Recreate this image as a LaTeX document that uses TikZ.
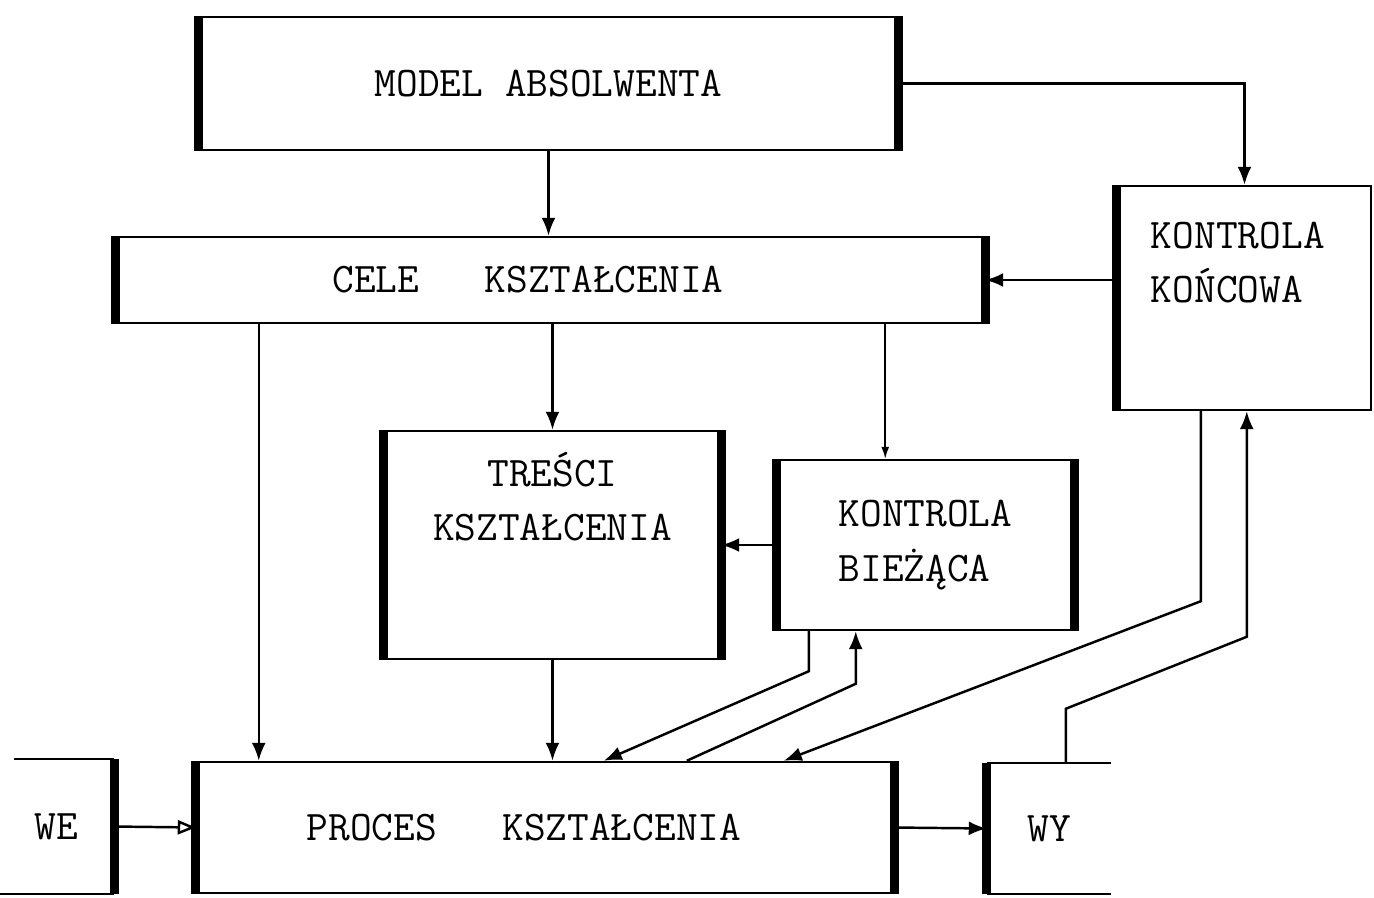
\documentclass[tikz,border=0pt]{standalone}
\usepackage{fontspec}
\usepackage{tikz}
\usetikzlibrary{arrows.meta,positioning,calc}
\tikzstyle{line} = [draw, line width=1.4pt, -{Latex[length=3.6mm,width=2.8mm]}]
\tikzstyle{thin line} = [draw, line width=0.9pt, -{Latex[length=2.4mm,width=1.6mm]}]
\tikzstyle{open line} = [draw, line width=1.4pt, -{Triangle[open,length=3.6mm,width=2.8mm]}]
\tikzstyle{block} = [draw, line width=1.4pt, rectangle, text centered, font=\ttfamily\fontsize{24}{31}\selectfont]
\tikzstyle{txt} = [font=\ttfamily\fontsize{24}{31}\selectfont]
\tikzstyle{side} = [line width=5pt]

\begin{document}
\begin{tikzpicture}[x=0.2mm, y=-0.2mm]
        \useasboundingbox (0,0) rectangle (1374,897);
        \node[block, minimum width=13.94cm, minimum height=2.66cm] (model) at (548.5,83.5) {MODEL ABSOLWENTA};
        \node[block, minimum width=17.34cm, minimum height=1.72cm] (cele) at (550.5,280) {CELE\ \ \ KSZTAŁCENIA\hspace{0.9cm}\mbox{}};
        \node[block, minimum width=5.06cm, minimum height=4.48cm] (konc) at (1244.5,298) {};
        \node[txt, align=left, below right=0.62cm and 0.56cm of konc.north west] (konctxt) {KONTROLA\\KOŃCOWA};
        \node[block, minimum width=6.7cm, minimum height=4.56cm] (tresci) at (552.5,545) {};
        \node[txt, align=center, below=0.32cm of tresci.north] (trescitxt) {TREŚCI\\KSZTAŁCENIA};
        \node[block, align=left, minimum width=5.9cm, minimum height=3.4cm] (biez) at (925.5,545) {KONTROLA\\BIEŻĄCA};
        \node[block, minimum width=13.92cm, minimum height=2.62cm] (proces) at (545,827.5) {PROCES\ \ \ KSZTAŁCENIA\hspace{0.84cm}\mbox{}};
        \node[block, draw=none, minimum width=2.26cm, minimum height=2.66cm] (we) at (56.5,826.5) {WE};
        \node[block, draw=none, minimum width=2.44cm, minimum height=2.58cm] (wy) at (1049,828.5) {WY};
        \draw[line width=1.4pt] ([xshift=0.3cm]we.north west) -- (we.north east) (we.south west) -- (we.south east);
        \draw[line width=1.4pt] (wy.north east) -- (wy.north west) (wy.south west) -- (wy.south east);
        \foreach \n in {model,cele,tresci,biez,proces}
            \draw[side] (\n.north west) -- (\n.south west) (\n.north east) -- (\n.south east);
        \draw[side] (konc.north west) -- (konc.south west);
        \draw[side] (we.north east) -- (we.south east);
        \draw[side] (wy.north west) -- (wy.south west);
        \coordinate (celeout) at ([xshift=2.86cm]cele.south west);
        \coordinate (biezin) at ([xshift=-2cm]cele.south east);
        \coordinate (biezout) at ([xshift=0.64cm]biez.south west);
        \coordinate (biezback) at ([xshift=1.58cm]biez.south west);
        \coordinate (koncout) at ([xshift=1.68cm]konc.south west);
        \coordinate (koncback) at ([xshift=2.6cm]konc.south west);
        \coordinate (wyout) at ([xshift=1.58cm]wy.north west);
        \coordinate (pa) at ([xshift=8.16cm]proces.north west);
        \coordinate (pb) at ([xshift=9.82cm]proces.north west);
        \coordinate (pc) at ([xshift=11.76cm]proces.north west);
        \path[line] (model.south) -- (model.south |- cele.north);
        \path[line] (model.east) -| (konc.north);
        \path[line] (konc.west |- cele.east) -- (cele.east);
        \path[line] (celeout) -- (celeout |- proces.north);
        \path[line] (tresci.north |- cele.south) -- (tresci.north);
        \path[thin line] (biezin) -- (biezin |- biez.north);
        \path[line] (biez.west) -- (tresci.east);
        \path[line] (tresci.south) -- (tresci.south |- proces.north);
        \path[line] (biezout) -- ++(0,40) -- (pa);
        \path[line] (pb) -- ++(169,-77) -- (biezback);
        \path[line] (koncout) -- ++(0,190) -- (pc);
        \path[line] (wyout) -- ++(0,-54) -- ++(181,-72) -- (koncback);
        \path[open line] (we.east) -- (proces.west);
        \path[line] (proces.east) -- (wy.west);
    \end{tikzpicture}
\end{document}
